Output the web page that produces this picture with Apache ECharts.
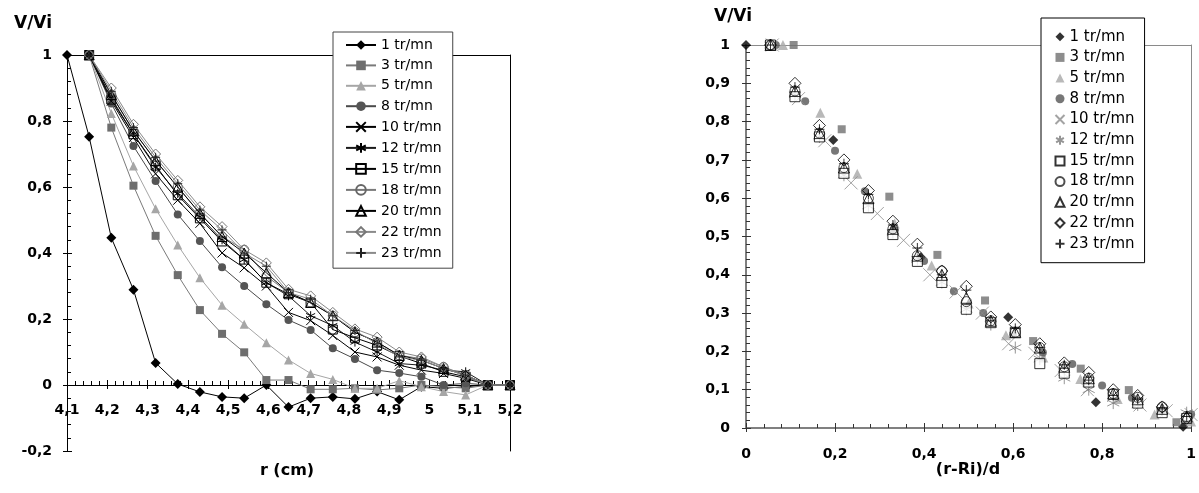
<!DOCTYPE html>
<html>
<head>
<meta charset="utf-8">
<script src="https://cdn.jsdelivr.net/npm/echarts@6/dist/echarts.min.js"></script>
<style>
  html, body { margin: 0; padding: 0; background: #fff; }
  #wrap { position: relative; width: 1199px; height: 493px; }
  #left { position: absolute; left: 0; top: 0; width: 600px; height: 493px; }
  #right { position: absolute; left: 600px; top: 0; width: 599px; height: 493px; }
</style>
</head>
<body>
<div id="wrap"><div id="left"></div><div id="right"></div></div>
<script>
// Rotation speeds (legend entries)
const speeds = ['1 tr/mn', '3 tr/mn', '5 tr/mn', '8 tr/mn', '10 tr/mn', '12 tr/mn',
                '15 tr/mn', '18 tr/mn', '20 tr/mn', '22 tr/mn', '23 tr/mn'];

// Radial positions r (cm) of the measurement points
const radius = [4.1, 4.155, 4.21, 4.265, 4.32, 4.375, 4.43, 4.485, 4.54, 4.595, 4.65,
                4.705, 4.76, 4.815, 4.87, 4.925, 4.98, 5.035, 5.09, 5.145, 5.2];

// Velocity ratio V/Vi at each radius (null = no measurement)
const v1  = [1, 0.752, 0.446, 0.289, 0.067, 0.003, -0.021, -0.036, -0.04, 0.0, -0.067, -0.04, -0.036, -0.042, -0.02, -0.045, -0.005, -0.01, -0.005, 0, 0];
const v3  = [null, 1, 0.78, 0.604, 0.452, 0.333, 0.227, 0.155, 0.099, 0.015, 0.015, -0.013, -0.013, -0.01, -0.015, -0.01, 0, -0.005, -0.01, 0, 0];
const v5  = [null, 1, 0.823, 0.664, 0.534, 0.424, 0.325, 0.242, 0.184, 0.128, 0.076, 0.035, 0.017, -0.01, -0.01, 0.013, -0.005, -0.02, -0.03, 0, 0];
const v8  = [null, 1, 0.853, 0.724, 0.618, 0.517, 0.436, 0.357, 0.3, 0.245, 0.197, 0.167, 0.111, 0.079, 0.045, 0.036, 0.025, 0.0, 0.005, 0, 0];
const v10 = [null, 1, 0.86, 0.75, 0.64, 0.56, 0.49, 0.40, 0.355, 0.30, 0.22, 0.195, 0.15, 0.10, 0.085, 0.06, 0.045, 0.035, 0.02, 0, 0];
const v12 = [null, 1, 0.87, 0.76, 0.66, 0.58, 0.51, 0.44, 0.38, 0.31, 0.27, 0.21, 0.18, 0.13, 0.10, 0.065, 0.06, 0.045, 0.04, 0, 0];
const v15 = [null, 1, 0.865, 0.76, 0.665, 0.575, 0.505, 0.435, 0.38, 0.31, 0.275, 0.25, 0.168, 0.143, 0.12, 0.088, 0.065, 0.04, 0.025, 0, 0];
const v18 = [null, 1, 0.88, 0.77, 0.68, 0.60, 0.52, 0.45, 0.41, 0.33, 0.28, 0.25, 0.21, 0.16, 0.13, 0.09, 0.08, 0.055, 0.03, 0, 0];
const v20 = [null, 1, 0.88, 0.77, 0.68, 0.60, 0.52, 0.45, 0.40, 0.34, 0.28, 0.25, 0.21, 0.16, 0.13, 0.09, 0.075, 0.05, 0.03, 0, 0];
const v22 = [null, 1, 0.90, 0.79, 0.70, 0.62, 0.54, 0.48, 0.41, 0.37, 0.29, 0.27, 0.22, 0.17, 0.145, 0.10, 0.085, 0.055, 0.025, 0, 0];
const v23 = [null, 1, 0.89, 0.78, 0.69, 0.61, 0.53, 0.47, 0.40, 0.36, 0.28, 0.26, 0.21, 0.165, 0.125, 0.085, 0.075, 0.05, 0.03, 0, 0];
const values = [v1, v3, v5, v8, v10, v12, v15, v18, v20, v22, v23];

// Dimensionless position (r-Ri)/d of the points inside each sheared layer
const n1  = [0, 0.196, 0.393, 0.589, 0.786, 0.982];
const n3  = [0.107, 0.215, 0.322, 0.43, 0.537, 0.645, 0.752, 0.86, 0.967];
const n5  = [0.083, 0.167, 0.25, 0.334, 0.417, 0.5, 0.584, 0.668, 0.751, 0.835, 0.918, 1.0];
const n8  = [0.067, 0.133, 0.2, 0.267, 0.333, 0.4, 0.467, 0.533, 0.6, 0.667, 0.733, 0.8, 0.867, 0.933, 1.0];
const n10 = [0.059, 0.118, 0.177, 0.236, 0.295, 0.354, 0.413, 0.472, 0.531, 0.59, 0.649, 0.708, 0.767, 0.826, 0.885, 0.944, 1.0];
const nGap = [0.055, 0.11, 0.165, 0.22, 0.275, 0.33, 0.385, 0.44, 0.495, 0.55, 0.605, 0.66, 0.715, 0.77, 0.825, 0.88, 0.935, 0.99];
const normPos = [n1, n3, n5, n8, n10, nGap, nGap, nGap, nGap, nGap, nGap];
const firstIndex = [0, 1, 1, 1, 1, 1, 1, 1, 1, 1, 1];

// Axis tick settings
const rTicks = { min: 4.1, max: 5.2, step: 0.1 };
const vTicksLeft = { min: -0.2, max: 1, step: 0.2 };
const xTicksRight = { min: 0, max: 1, step: 0.2 };
const vTicksRight = { min: 0, max: 1, step: 0.1 };

const FONT = '"DejaVu Sans", "Liberation Sans", sans-serif';
const comma = v => String(Math.round(v * 10) / 10).replace('.', ',');

const SYM = {
  cross: 'path://M0,0L10,10M0,10L10,0',
  star: 'path://M5,0L5,10M0.7,2.5L9.3,7.5M0.7,7.5L9.3,2.5',
  plus: 'path://M5,0L5,10M0,5L10,5'
};

// marker / line appearance, series order
const leftLook = [
  { s: 'diamond', z: 10, fill: '#000', stroke: '#000', line: '#000' },
  { s: 'rect', z: 8, fill: '#6e6e6e', stroke: '#6e6e6e', line: '#7a7a7a' },
  { s: 'triangle', z: 9, fill: '#a6a6a6', stroke: '#a6a6a6', line: '#a6a6a6' },
  { s: 'circle', z: 8, fill: '#555', stroke: '#555', line: '#4a4a4a' },
  { s: SYM.cross, z: 9, fill: 'none', stroke: '#000', line: '#000' },
  { s: SYM.star, z: 9, fill: 'none', stroke: '#000', line: '#1a1a1a' },
  { s: 'rect', z: 9, fill: 'none', stroke: '#000', line: '#000' },
  { s: 'circle', z: 9, fill: 'none', stroke: '#666', line: '#7a7a7a' },
  { s: 'triangle', z: 10, fill: 'none', stroke: '#000', line: '#000' },
  { s: 'diamond', z: 10, fill: 'none', stroke: '#777', line: '#8a8a8a' },
  { s: SYM.plus, z: 9, fill: 'none', stroke: '#222', line: '#8a8a8a' }
];
const rightLook = [
  { s: 'diamond', z: 10, fill: '#000', stroke: '#000' },
  { s: 'rect', z: 8, fill: '#707070', stroke: '#707070' },
  { s: 'triangle', z: 10, fill: '#a8a8a8', stroke: '#a8a8a8' },
  { s: 'circle', z: 8, fill: '#555', stroke: '#555' },
  { s: SYM.cross, z: 13, fill: 'none', stroke: '#8c8c8c' },
  { s: SYM.star, z: 12, fill: 'none', stroke: '#7a7a7a' },
  { s: 'rect', z: 10, fill: '#fff', stroke: '#000' },
  { s: 'circle', z: 10, fill: 'none', stroke: '#222' },
  { s: 'triangle', z: 11, fill: 'none', stroke: '#000' },
  { s: 'diamond', z: 12, fill: 'none', stroke: '#000' },
  { s: SYM.plus, z: 10, fill: 'none', stroke: '#000' }
];

function axisSet(dim, t, o) {
  // main axis + overlay carrying outer half of major ticks + opposite border line
  const base = { type: 'value', min: t.min, max: t.max, interval: t.step, splitLine: { show: false } };
  const main = Object.assign({}, base, {
    position: dim === 'x' ? 'bottom' : 'left',
    axisLine: { show: true, onZero: true, lineStyle: { color: o.axisColor, width: o.axisWidth } },
    axisTick: { show: true, inside: true, length: 5, lineStyle: { color: o.tickColor } },
    minorTick: { show: true, splitNumber: 5, length: 4, lineStyle: { color: o.tickColor } },
    axisLabel: { show: true, margin: o.margin, fontFamily: FONT, fontWeight: 'bold', fontSize: 14,
                 color: '#000', formatter: comma, showMinLabel: true, showMaxLabel: true }
  });
  const outer = Object.assign({}, base, {
    position: dim === 'x' ? 'bottom' : 'left',
    axisLine: { show: false, onZero: true },
    axisTick: { show: true, inside: false, length: 4, lineStyle: { color: o.tickColor } },
    axisLabel: { show: false }
  });
  const border = Object.assign({}, base, {
    position: dim === 'x' ? 'top' : 'right',
    axisLine: { show: true, onZero: false, lineStyle: { color: o.borderColor, width: 1 } },
    axisTick: { show: false }, axisLabel: { show: false }
  });
  return [main, outer, border];
}

function text(x, y, str, size, bold) {
  return { type: 'text', x: x, y: y, silent: true,
           style: { text: str, fill: '#000', font: (bold ? 'bold ' : '') + size + 'px ' + FONT,
                    align: 'center', verticalAlign: 'middle' } };
}

// ---- r profile chart ----
const leftChart = echarts.init(document.getElementById('left'), null, { renderer: 'canvas' });
leftChart.setOption({
  animation: false,
  backgroundColor: '#fff',
  grid: { left: 67, top: 55, width: 443, height: 396 },
  // r labels sit just under the V/Vi = 0 line, inside the plot frame
  xAxis: axisSet('x', rTicks, { axisColor: '#000', axisWidth: 1, tickColor: '#000', borderColor: '#000', margin: -48 }),
  yAxis: axisSet('y', vTicksLeft, { axisColor: '#000', axisWidth: 1, tickColor: '#000', borderColor: '#000', margin: 15 }),
  legend: {
    orient: 'vertical', left: 333, top: 32, padding: [6, 11, 8, 12],
    itemWidth: 30, itemHeight: 12, itemGap: 6.4,
    borderColor: '#444', borderWidth: 1, backgroundColor: '#fff', selectedMode: false,
    textStyle: { fontFamily: FONT, fontSize: 14, color: '#000' },
    data: speeds
  },
  graphic: [text(33, 24, 'V/Vi', 17, true), text(287, 471, 'r (cm)', 16, true)],
  series: speeds.map((name, i) => {
    const look = leftLook[i];
    const data = [];
    radius.forEach((r, k) => { if (values[i][k] !== null) data.push([r, values[i][k]]); });
    return {
      type: 'line', name: name, data: data, xAxisIndex: 0, yAxisIndex: 0,
      symbol: look.s, symbolSize: look.z, showSymbol: true, clip: false,
      lineStyle: { color: look.line, width: 1 },
      itemStyle: { color: look.fill, borderColor: look.stroke, borderWidth: look.fill === 'none' ? 1 : 0 },
      emphasis: { disabled: true }
    };
  })
});

// ---- dimensionless chart ----
const rightChart = echarts.init(document.getElementById('right'), null, { renderer: 'canvas' });
rightChart.setOption({
  animation: false,
  backgroundColor: '#fff',
  grid: { left: 146, top: 45, width: 446, height: 383 },
  xAxis: axisSet('x', xTicksRight, { axisColor: '#808080', axisWidth: 2, tickColor: '#333', borderColor: '#8a8a8a', margin: 19 }),
  yAxis: axisSet('y', vTicksRight, { axisColor: '#808080', axisWidth: 2, tickColor: '#333', borderColor: '#8a8a8a', margin: 16 }),
  legend: {
    orient: 'vertical', left: 441, top: 18, padding: [11.2, 10, 11.5, 12],
    itemWidth: 9, itemHeight: 9, itemGap: 5.7,
    borderColor: '#000', borderWidth: 1, backgroundColor: '#fff', selectedMode: false,
    textStyle: { fontFamily: FONT, fontSize: 15, color: '#000' },
    data: speeds
  },
  graphic: [text(133, 17, 'V/Vi', 17, true), text(368, 470, '(r-Ri)/d', 16, true)],
  series: speeds.map((name, i) => {
    const look = rightLook[i];
    const data = normPos[i].map((x, j) => [x, values[i][j + firstIndex[i]]]);
    return {
      type: 'scatter', name: name, data: data, xAxisIndex: 0, yAxisIndex: 0,
      symbol: look.s, symbolSize: look.z, clip: false,
      itemStyle: { color: look.fill, borderColor: look.stroke, borderWidth: look.fill === '#fff' || look.fill === 'none' ? 1 : 0 },
      emphasis: { disabled: true }
    };
  })
});
</script>
</body>
</html>
